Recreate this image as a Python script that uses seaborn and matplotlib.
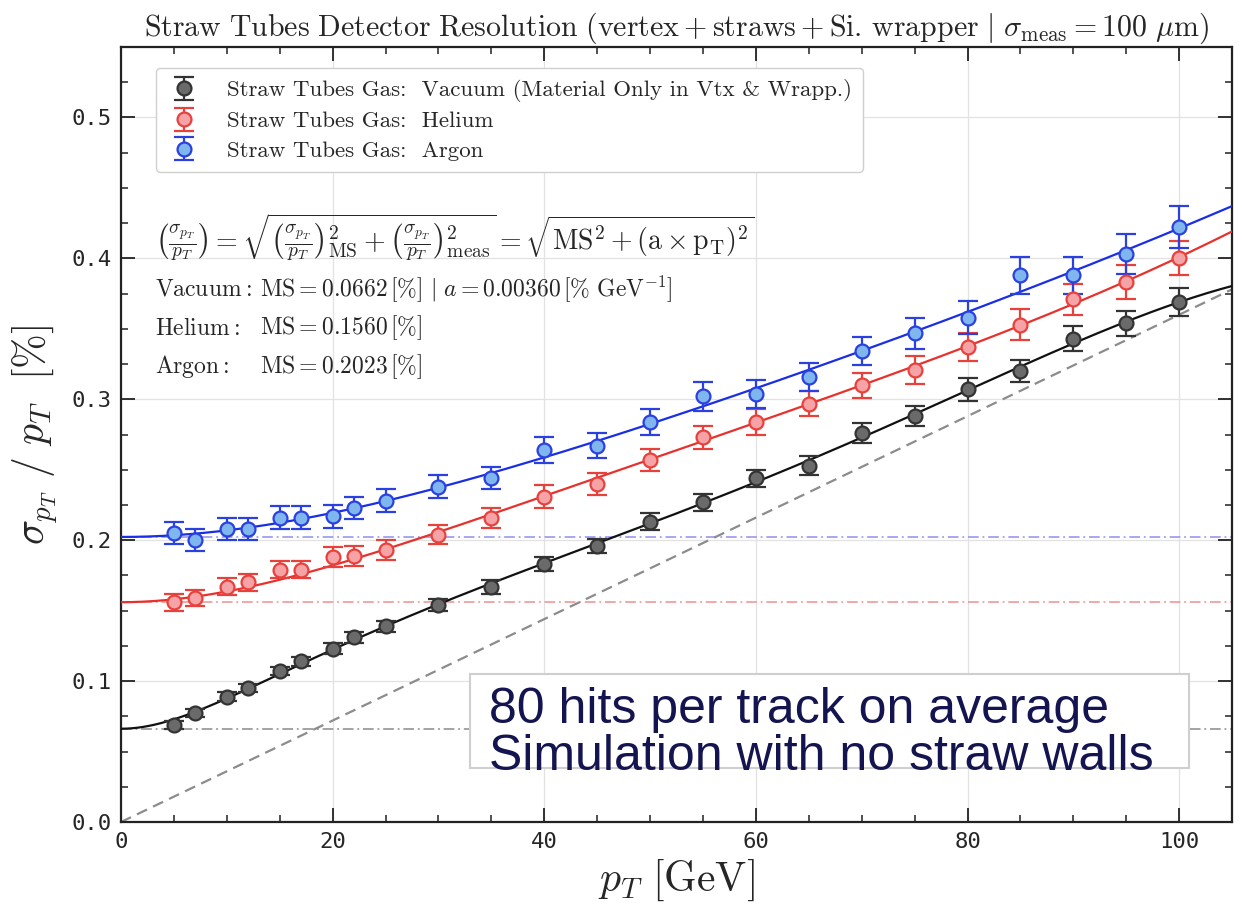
import numpy as np
import pandas as pd
import matplotlib
matplotlib.use("Agg")
import matplotlib.pyplot as plt
from matplotlib.patches import Rectangle
from matplotlib.ticker import MultipleLocator, FormatStrFormatter
import seaborn as sns

# ---- measurements ----
pt = [5, 7, 10, 12, 15, 17, 20, 22, 25, 30, 35, 40, 45, 50,
      55, 60, 65, 70, 75, 80, 85, 90, 95, 100]

vacuum = [0.069, 0.0775, 0.089, 0.095, 0.107, 0.114, 0.123, 0.131, 0.139, 0.154,
          0.167, 0.183, 0.196, 0.213, 0.227, 0.244, 0.253, 0.276, 0.288, 0.307,
          0.320, 0.343, 0.354, 0.369]
vacuum_err = [0.003, 0.003, 0.003, 0.003, 0.003, 0.003, 0.004, 0.004, 0.004, 0.004,
              0.005, 0.005, 0.005, 0.006, 0.006, 0.006, 0.007, 0.007, 0.007, 0.008,
              0.008, 0.009, 0.009, 0.010]

helium = [0.156, 0.159, 0.167, 0.170, 0.179, 0.179, 0.188, 0.189, 0.193, 0.204,
          0.216, 0.231, 0.240, 0.257, 0.273, 0.284, 0.297, 0.310, 0.321, 0.337,
          0.353, 0.371, 0.383, 0.400]
helium_err = [0.006, 0.006, 0.006, 0.006, 0.006, 0.006, 0.007, 0.007, 0.007, 0.007,
              0.007, 0.008, 0.008, 0.008, 0.008, 0.009, 0.009, 0.009, 0.010, 0.010,
              0.011, 0.011, 0.012, 0.012]

argon = [0.205, 0.200, 0.208, 0.208, 0.216, 0.216, 0.217, 0.223, 0.228, 0.238,
         0.244, 0.264, 0.267, 0.284, 0.302, 0.304, 0.316, 0.334, 0.347, 0.358,
         0.388, 0.388, 0.403, 0.422]
argon_err = [0.008, 0.008, 0.008, 0.008, 0.008, 0.008, 0.008, 0.008, 0.008, 0.008,
             0.008, 0.009, 0.009, 0.009, 0.010, 0.010, 0.010, 0.010, 0.011, 0.012,
             0.013, 0.013, 0.014, 0.015]

# fitted multiple-scattering terms and measurement slope
ms_vacuum, ms_helium, ms_argon = 0.0662, 0.1560, 0.2023
a_meas = 0.00360

series_names = ["Vacuum", "Helium", "Argon"]

sns.set_theme(style="whitegrid")
plt.rcParams.update({
    "mathtext.fontset": "cm",
    "axes.unicode_minus": False,
    "axes.edgecolor": "#222222",
    "axes.linewidth": 1.6,
    "grid.color": "#e2e2e2",
    "grid.linewidth": 0.9,
})

fig = plt.figure(figsize=(12.42, 9.16), dpi=100)
ax = fig.add_axes([0.0974, 0.1026, 0.8946, 0.8461])
ax.set_facecolor("white")
fig.patch.set_facecolor("white")

styles = {
    "Vacuum": dict(line="#111111", face="#6a6a6a", edge="#333333", ms_line="#8a8a8a"),
    "Helium": dict(line="#e8312c", face="#f5a3a6", edge="#e8413c", ms_line="#ee8f8f"),
    "Argon": dict(line="#1a2ee6", face="#7fb6ee", edge="#2a40e0", ms_line="#9090ee"),
}

values = {"Vacuum": (vacuum, vacuum_err, ms_vacuum),
          "Helium": (helium, helium_err, ms_helium),
          "Argon": (argon, argon_err, ms_argon)}

labels = {
    "Vacuum": "Straw Tubes Gas:  Vacuum (Material Only in Vtx & Wrapp.)",
    "Helium": "Straw Tubes Gas:  Helium",
    "Argon": "Straw Tubes Gas:  Argon",
}

# polynomial orders of the smoothing curve for each gas
curve_powers = {"Vacuum": range(2, 6), "Helium": range(2, 5), "Argon": range(2, 5)}

x = np.asarray(pt, float)
xs = np.linspace(0, 105, 400)

# smooth curve in quadrature form: y^2 = MS^2 + poly(pT), flat at pT = 0
curve_frames = []
for name in series_names:
    y, err, ms = values[name]
    y = np.asarray(y, float)
    t = x / 100.0
    powers = curve_powers[name]
    A = np.column_stack([t ** k for k in powers])
    coef, *_ = np.linalg.lstsq(A, y ** 2 - ms ** 2, rcond=None)
    ts = xs / 100.0
    ys = np.sqrt(ms ** 2 + np.column_stack([ts ** k for k in powers]) @ coef)
    curve_frames.append(pd.DataFrame({"pt": xs, "res": ys, "gas": name}))
curves = pd.concat(curve_frames, ignore_index=True)

# horizontal MS levels
for name in series_names:
    ax.axhline(values[name][2], color=styles[name]["ms_line"], lw=1.1,
               ls=(0, (7, 2.5, 1.2, 2.5)), zorder=1)

# pure measurement term a * pT
ax.plot(xs, a_meas * xs, color="#8c8c8c", lw=1.6, ls=(0, (5, 3)), zorder=1)

sns.lineplot(data=curves, x="pt", y="res", hue="gas",
             palette={n: styles[n]["line"] for n in series_names},
             lw=1.6, legend=False, ax=ax, zorder=3)

handles = []
for name in series_names:
    y, err, ms = values[name]
    st = styles[name]
    h = ax.errorbar(pt, y, yerr=err, fmt="o", ms=10, mfc=st["face"], mec=st["edge"],
                    mew=1.6, ecolor=st["edge"], elinewidth=1.6, capsize=7,
                    capthick=1.6, zorder=4, label=labels[name])
    handles.append(h)

ax.set_xlim(0, 105)
ax.set_ylim(0, 0.55)
ax.xaxis.set_major_locator(MultipleLocator(20))
ax.xaxis.set_minor_locator(MultipleLocator(5))
ax.yaxis.set_major_locator(MultipleLocator(0.1))
ax.yaxis.set_minor_locator(MultipleLocator(0.025))
ax.yaxis.set_major_formatter(FormatStrFormatter("%.1f"))
ax.tick_params(which="both", direction="in", top=True, right=True,
               bottom=True, left=True, color="#222222")
ax.tick_params(which="major", length=10, width=1.3, labelsize=16, pad=7)
ax.tick_params(which="minor", length=5, width=1.1)
for lab in ax.get_xticklabels() + ax.get_yticklabels():
    lab.set_family("DejaVu Sans Mono")
ax.grid(True, which="major")
ax.grid(False, which="minor")
for sp in ax.spines.values():
    sp.set_visible(True)
    sp.set_color("#222222")

ax.set_xlabel(r"$p_T\ [\mathrm{GeV}]$", fontsize=30, labelpad=4)
ax.set_ylabel(r"$\sigma_{p_T}\ /\ p_T\ \ [\%]$", fontsize=30, labelpad=8)
ax.set_title(r"$\mathrm{Straw\ Tubes\ Detector\ Resolution\ (vertex + straws + Si.\,wrapper}\ |\ "
             r"\sigma_{\mathrm{meas}} = 100\ \mu\mathrm{m})$", fontsize=21.5, pad=8)

leg = ax.legend(handles=handles, loc="upper left", bbox_to_anchor=(0.021, 0.988),
                prop={"family": "cmr10", "size": 16.5}, frameon=True, fancybox=True,
                framealpha=1, edgecolor="#d0d0d0", borderpad=0.5, labelspacing=0.4,
                handletextpad=1.1, handlelength=1.5)
leg.get_frame().set_linewidth(1.0)

ax.text(0.0306, 0.755,
        r"$\left(\frac{\sigma_{p_T}}{p_T}\right) = \sqrt{\left(\frac{\sigma_{p_T}}{p_T}\right)^2_{\mathrm{MS}}"
        r" + \left(\frac{\sigma_{p_T}}{p_T}\right)^2_{\mathrm{meas}}} = \sqrt{\mathrm{MS}^2 + (\mathrm{a}\times \mathrm{p_T})^2}$",
        transform=ax.transAxes, fontsize=20, va="center", ha="left")

# fit results: gas name, then the MS column aligned after the widest name
fit_rows = [
    (0.688, r"$\mathrm{Vacuum:}$",
     r"$\mathrm{MS} = %.4f\,[\%%]\ |\ a = %.5f\,[\%%\ \mathrm{GeV}^{-1}]$" % (ms_vacuum, a_meas)),
    (0.638, r"$\mathrm{Helium:}$", r"$\mathrm{MS} = %.4f\,[\%%]$" % ms_helium),
    (0.588, r"$\mathrm{Argon:}$", r"$\mathrm{MS} = %.4f\,[\%%]$" % ms_argon),
]
heads = [ax.text(0.0306, yy, head, transform=ax.transAxes, fontsize=17,
                 va="center", ha="left") for yy, head, _ in fit_rows]
fig.canvas.draw()
renderer = fig.canvas.get_renderer()
right_px = max(h.get_window_extent(renderer).x1 for h in heads)
body_x = ax.transAxes.inverted().transform((right_px + 8, 0))[0]
for yy, _, body in fit_rows:
    ax.text(body_x, yy, body, transform=ax.transAxes, fontsize=17, va="center", ha="left")

# annotation box
box = Rectangle((470 / 1242, 1 - 768 / 916), (1189 - 470) / 1242, (768 - 674) / 916,
                transform=fig.transFigure, facecolor="white", edgecolor="#cfcfcf",
                lw=1.5, zorder=10)
fig.patches.append(box)
fig.text(489 / 1242, 1 - 770 / 916, "80 hits per track on average\nSimulation with no straw walls",
         fontsize=36, family="Liberation Sans", color="#141450",
         va="baseline", ha="left", linespacing=1.02, zorder=11)

fig.savefig("out.png", dpi=100, facecolor="white")
